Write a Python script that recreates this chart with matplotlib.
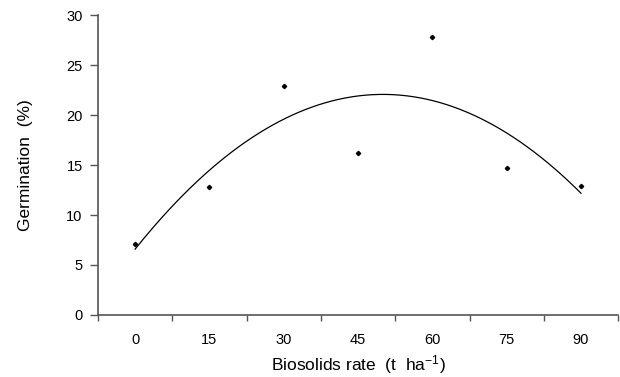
import numpy as np
import matplotlib
matplotlib.use("Agg")
import matplotlib.pyplot as plt

plt.rcParams["font.family"] = ["Liberation Sans", "DejaVu Sans"]
plt.rcParams["mathtext.default"] = "regular"

rates = ["0", "15", "30", "45", "60", "75", "90"]
germination = [7.1, 12.8, 22.9, 16.2, 27.8, 14.7, 12.9]

fig = plt.figure(figsize=(6.2, 3.77), dpi=100)
ax = fig.add_axes([0.158, 0.1645, 0.839, 0.7955])

x = np.arange(len(rates))
ax.plot(x, germination, "D", color="black", markersize=2.2, zorder=3)

# quadratic trend line (like the Excel polynomial trendline)
coef = np.polyfit(x, germination, 2)
xs = np.linspace(0, len(rates) - 1, 200)
ax.plot(xs, np.polyval(coef, xs), color="black", linewidth=0.9)

ax.set_xlim(-0.5, len(rates) - 0.5)
ax.set_ylim(0, 30)
ax.set_yticks(range(0, 31, 5))
ax.set_xticks(x)
ax.set_xticklabels(rates)
ax.set_xticks(np.arange(-0.5, len(rates), 1.0), minor=True)
ax.tick_params(axis="x", which="major", length=0, pad=13, labelsize=10.5)
ax.tick_params(axis="x", which="minor", length=4, width=1, color="#555555", direction="out")
ax.tick_params(axis="y", length=6, width=1, color="#555555", labelsize=10.5, pad=5)

for s in ["top", "right"]:
    ax.spines[s].set_visible(False)
for s in ["left", "bottom"]:
    ax.spines[s].set_color("#555555")
    ax.spines[s].set_linewidth(1.2)

ax.set_xlabel("Biosolids rate  (t  ha$^{-1}$)", fontsize=12.5)
ax.set_ylabel("Germination  (%)", fontsize=12.5)
ax.xaxis.set_label_coords(0.5, -0.128)
ax.yaxis.set_label_coords(-0.125, 0.5)

fig.savefig("out.png", dpi=100)
